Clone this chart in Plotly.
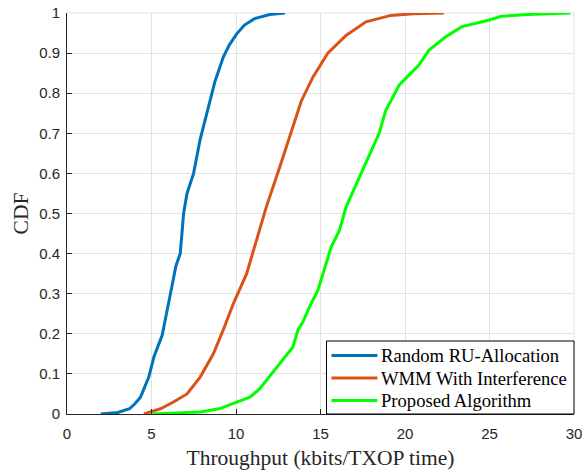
import plotly.graph_objects as go

# Empirical CDF of per-user throughput (kbits/TXOP time) for each scheme
random_x = [2.0, 3.0, 3.7, 4.0, 4.35, 4.84, 5.14, 5.63, 6.12, 6.45, 6.7, 6.9, 7.1, 7.49,
            7.88, 8.27, 8.76, 9.25, 9.6, 10.04, 10.5, 11.1, 12.0, 12.9]
random_cdf = [0, 0.004, 0.013, 0.025, 0.042, 0.092, 0.142, 0.196, 0.30, 0.37, 0.40, 0.50,
              0.55, 0.60, 0.685, 0.75, 0.83, 0.89, 0.92, 0.948, 0.97, 0.986, 0.996, 1.0]

wmm_x = [4.55, 5.0, 5.53, 6.3, 7.1, 7.88, 8.66, 9.25, 9.84, 10.63, 11.2, 11.79, 12.59,
         13.17, 13.86, 14.55, 15.43, 16.51, 17.69, 19.16, 20.5, 22.3]
wmm_cdf = [0, 0.006, 0.013, 0.03, 0.05, 0.092, 0.15, 0.21, 0.275, 0.35, 0.433, 0.516,
           0.616, 0.69, 0.78, 0.84, 0.90, 0.944, 0.978, 0.994, 0.998, 1.0]

proposed_x = [5.04, 6.5, 7.88, 9.0, 9.84, 10.82, 11.41, 12.1, 12.7, 13.37, 13.66, 13.96,
              14.35, 14.65, 14.84, 15.33, 15.63, 16.12, 16.51, 17.49, 18.18, 18.47, 18.86,
              19.65, 20.0, 20.82, 21.41, 22.39, 23.37, 24.94, 25.7, 27.3, 29.8]
proposed_cdf = [0, 0.002, 0.005, 0.013, 0.026, 0.042, 0.063, 0.1, 0.13, 0.167, 0.209,
                0.23, 0.267, 0.292, 0.308, 0.375, 0.416, 0.458, 0.516, 0.608, 0.675, 0.70,
                0.757, 0.82, 0.835, 0.87, 0.907, 0.94, 0.966, 0.982, 0.992, 0.996, 1.0]

series_names = ["Random RU-Allocation", "WMM With Interference", "Proposed Algorithm"]
series_colors = ["#0072BD", "#D95319", "#00FF00"]

x_ticks = [0, 5, 10, 15, 20, 25, 30]
y_ticks = [0, 0.1, 0.2, 0.3, 0.4, 0.5, 0.6, 0.7, 0.8, 0.9, 1]
y_tick_labels = ["0", "0.1", "0.2", "0.3", "0.4", "0.5", "0.6", "0.7", "0.8", "0.9", "1"]

serif = "Liberation Serif, Times New Roman, serif"
sans = "Liberation Sans, Arial, Helvetica, sans-serif"
axis_color = "#262626"
grid_color = "#e3e3e3"

# figure and plot-area geometry (px)
W, H = 582, 473
M_L, M_R, M_T, M_B = 66.5, 7.5, 12.7, 59.3
PW, PH = W - M_L - M_R, H - M_T - M_B


def px_x(px):
    """Horizontal pixel offset from the plot's left edge -> paper fraction."""
    return px / PW


def px_y(px):
    """Vertical pixel offset up from the plot's bottom edge -> paper fraction."""
    return px / PH


fig = go.Figure()
for xs, ys, name, color in zip([random_x, wmm_x, proposed_x],
                               [random_cdf, wmm_cdf, proposed_cdf],
                               series_names, series_colors):
    fig.add_trace(go.Scatter(x=xs, y=ys, mode="lines", name=name, showlegend=False,
                             line=dict(color=color, width=3)))

# grid lines along the open top and right edges of the axes box
fig.add_shape(type="line", xref="paper", yref="paper", x0=0, x1=1, y0=1, y1=1,
              line=dict(color=grid_color, width=1), layer="below")
fig.add_shape(type="line", xref="paper", yref="paper", x0=1, x1=1, y0=0, y1=1,
              line=dict(color=grid_color, width=1), layer="below")

# legend box in the lower-right corner of the axes
LEG_W, LEG_H = 248, 73
ROW_H = 22.5
leg_x0 = 1 - px_x(LEG_W)
fig.add_shape(type="rect", xref="paper", yref="paper",
              x0=leg_x0, x1=1, y0=0, y1=px_y(LEG_H),
              line=dict(color="#000000", width=1), fillcolor="white", layer="above")
for i, (name, color) in enumerate(zip(series_names, series_colors)):
    row_y = px_y(LEG_H - 14.5 - i * ROW_H)
    fig.add_shape(type="line", xref="paper", yref="paper",
                  x0=leg_x0 + px_x(5), x1=leg_x0 + px_x(51), y0=row_y, y1=row_y,
                  line=dict(color=color, width=3), layer="above")
    fig.add_annotation(xref="paper", yref="paper", x=leg_x0 + px_x(53), y=row_y,
                       xanchor="left", yanchor="middle", showarrow=False, text=name,
                       font=dict(family=serif, size=18.6, color="#000000"))

fig.update_layout(
    width=W, height=H,
    margin=dict(l=M_L, r=M_R, t=M_T, b=M_B, autoexpand=False),
    paper_bgcolor="white", plot_bgcolor="white",
    showlegend=False,
    xaxis=dict(range=[0, 30], tickvals=x_ticks, ticktext=[str(v) for v in x_ticks],
               showgrid=True, gridcolor=grid_color, gridwidth=1,
               zeroline=False, showline=True, linecolor=axis_color, linewidth=1,
               ticks="inside", ticklen=5, tickcolor=axis_color,
               tickfont=dict(family=sans, size=15, color=axis_color),
               ticklabelstandoff=6, ticklabeloverflow="allow",
               title=dict(text="Throughput (kbits/TXOP time)",
                          font=dict(family=serif, size=21.5, color=axis_color),
                          standoff=8),
               automargin=False),
    yaxis=dict(range=[0, 1], tickvals=y_ticks, ticktext=y_tick_labels,
               showgrid=True, gridcolor=grid_color, gridwidth=1,
               zeroline=False, showline=True, linecolor=axis_color, linewidth=1,
               ticks="inside", ticklen=5, tickcolor=axis_color,
               tickfont=dict(family=sans, size=15, color=axis_color),
               ticklabelstandoff=3, ticklabeloverflow="allow",
               title=dict(text="CDF",
                          font=dict(family=serif, size=21.5, color=axis_color),
                          standoff=4),
               automargin=False),
)

fig.write_html("out.html")
